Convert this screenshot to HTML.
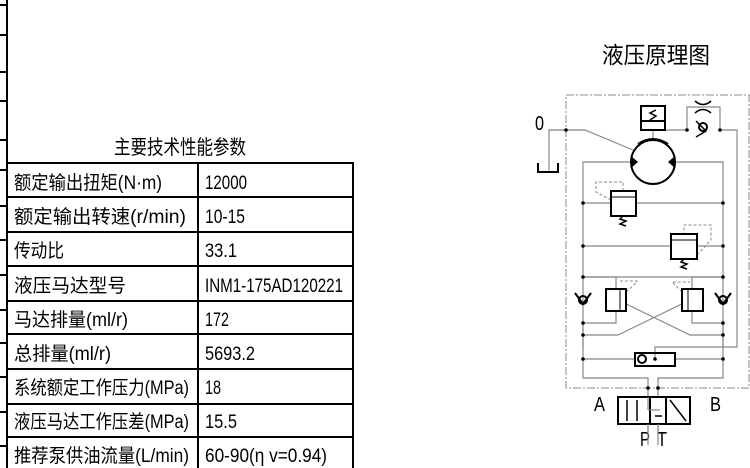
<!DOCTYPE html>
<html><head><meta charset="utf-8"><style>html,body{margin:0;padding:0;background:#fff}svg{display:block}</style></head><body>
<svg width="750" height="468" viewBox="0 0 750 468" xmlns="http://www.w3.org/2000/svg" font-family="'Liberation Sans','Noto Sans CJK SC',sans-serif">
<g stroke="#000" stroke-width="2" fill="none">
<line x1="7" y1="0" x2="7" y2="468"/>
<line x1="0" y1="5" x2="7" y2="5"/><line x1="0" y1="35" x2="7" y2="35"/><line x1="0" y1="72" x2="7" y2="72"/><line x1="0" y1="101" x2="7" y2="101"/><line x1="0" y1="140" x2="7" y2="140"/><line x1="0" y1="170" x2="7" y2="170"/><line x1="0" y1="206" x2="7" y2="206"/><line x1="0" y1="240" x2="7" y2="240"/><line x1="0" y1="275" x2="7" y2="275"/><line x1="0" y1="310" x2="7" y2="310"/><line x1="0" y1="343" x2="7" y2="343"/><line x1="0" y1="377" x2="7" y2="377"/><line x1="0" y1="412" x2="7" y2="412"/><line x1="0" y1="446" x2="7" y2="446"/>
<rect x="7" y="163" width="346" height="310"/>
<line x1="198" y1="163" x2="198" y2="468"/>
<line x1="7" y1="197" x2="353" y2="197"/><line x1="7" y1="232" x2="353" y2="232"/><line x1="7" y1="266" x2="353" y2="266"/><line x1="7" y1="301" x2="353" y2="301"/><line x1="7" y1="334" x2="353" y2="334"/><line x1="7" y1="369" x2="353" y2="369"/><line x1="7" y1="404" x2="353" y2="404"/><line x1="7" y1="437" x2="353" y2="437"/>
</g>
<g font-size="19" fill="#000">
<text x="180" y="154" text-anchor="middle" font-size="20" textLength="132" lengthAdjust="spacingAndGlyphs">主要技术性能参数</text>
<text x="14" y="189" textLength="148" lengthAdjust="spacingAndGlyphs">额定输出扭矩(N·m)</text>
<text x="14" y="223" textLength="172" lengthAdjust="spacingAndGlyphs">额定输出转速(r/min)</text>
<text x="14" y="257" textLength="50" lengthAdjust="spacingAndGlyphs">传动比</text>
<text x="14" y="292" textLength="112" lengthAdjust="spacingAndGlyphs">液压马达型号</text>
<text x="14" y="326" textLength="114" lengthAdjust="spacingAndGlyphs">马达排量(ml/r)</text>
<text x="14" y="360" textLength="97" lengthAdjust="spacingAndGlyphs">总排量(ml/r)</text>
<text x="14" y="394" textLength="175" lengthAdjust="spacingAndGlyphs">系统额定工作压力(MPa)</text>
<text x="14" y="428" textLength="175" lengthAdjust="spacingAndGlyphs">液压马达工作压差(MPa)</text>
<text x="14" y="462" textLength="175" lengthAdjust="spacingAndGlyphs">推荐泵供油流量(L/min)</text>
<text x="205" y="189" textLength="42" lengthAdjust="spacingAndGlyphs">12000</text>
<text x="205" y="223" textLength="40" lengthAdjust="spacingAndGlyphs">10-15</text>
<text x="205" y="257" textLength="32" lengthAdjust="spacingAndGlyphs">33.1</text>
<text x="205" y="292" textLength="138" lengthAdjust="spacingAndGlyphs">INM1-175AD120221</text>
<text x="205" y="326" textLength="24" lengthAdjust="spacingAndGlyphs">172</text>
<text x="205" y="360" textLength="50" lengthAdjust="spacingAndGlyphs">5693.2</text>
<text x="205" y="394" textLength="16" lengthAdjust="spacingAndGlyphs">18</text>
<text x="205" y="428" textLength="32" lengthAdjust="spacingAndGlyphs">15.5</text>
<text x="205" y="462" textLength="122" lengthAdjust="spacingAndGlyphs">60-90(η v=0.94)</text>
<text x="656" y="63" text-anchor="middle" font-size="23" textLength="108" lengthAdjust="spacingAndGlyphs">液压原理图</text>
<text x="535" y="130" font-size="20" textLength="9" lengthAdjust="spacingAndGlyphs">0</text>
<text x="594" y="411" font-size="20" textLength="11" lengthAdjust="spacingAndGlyphs">A</text>
<text x="710" y="411" font-size="20" textLength="11" lengthAdjust="spacingAndGlyphs">B</text>
<text x="640" y="446" font-size="20" textLength="10" lengthAdjust="spacingAndGlyphs">P</text>
<text x="657" y="446" font-size="20" textLength="10" lengthAdjust="spacingAndGlyphs">T</text>
</g>
<rect x="566" y="95" width="183" height="293" fill="none" stroke="#888" stroke-width="1" stroke-dasharray="8,2,2,2"/>
<g stroke="#888" stroke-width="1.2" fill="none">
<polyline points="549,172 549,130 585,130 633,150"/>
<polyline points="583,347 583,162 631,162"/>
<polyline points="675,162 723,162 723,347"/>
<line x1="583" y1="203" x2="611" y2="203"/><line x1="636" y1="203" x2="723" y2="203"/>
<line x1="583" y1="246" x2="671" y2="246"/><line x1="697" y1="246" x2="723" y2="246"/>
<line x1="583" y1="277" x2="723" y2="277"/>
<polyline points="583,323 583,378 648,378 648,420"/>
<polyline points="723,323 723,378 658,378 658,445"/>
<line x1="583" y1="359" x2="635" y2="359"/><line x1="675" y1="359" x2="723" y2="359"/>
<line x1="653" y1="130" x2="653" y2="140"/>
<polyline points="665,130 687,130"/><polyline points="720,130 737,130 737,347 655,347 655,359"/>
<polyline points="687,130 687,107 720,107 720,130"/>
<polyline points="583,277 616,277 616,289"/><polyline points="583,323 616,323 616,311"/>
<polyline points="723,277 692,277 692,289"/><polyline points="723,323 692,323 692,311"/>
<polyline points="583,335 618,335 690,300 703,300"/>
<polyline points="723,335 690,335 618,300 626,300"/>
<polyline points="648,420 648,445"/>
</g>
<g stroke="#888" stroke-width="1" fill="none" stroke-dasharray="3,2">
<polyline points="611,200 596,192 596,182 623,182 623,191"/>
<polyline points="697,255 711,240 711,225 684,225 684,234"/>
<polyline points="626,292 637,282 637,281 620,281"/>
<polyline points="682,292 672,282 690,282"/>
</g>
<g fill="#000">
<circle cx="566" cy="130" r="1.8"/><circle cx="687" cy="130" r="1.8"/><circle cx="720" cy="130" r="1.8"/>
<circle cx="583" cy="203" r="1.8"/><circle cx="723" cy="203" r="1.8"/><circle cx="583" cy="246" r="1.8"/><circle cx="723" cy="246" r="1.8"/>
<circle cx="583" cy="277" r="1.8"/><circle cx="723" cy="277" r="1.8"/><circle cx="583" cy="323" r="1.8"/><circle cx="723" cy="323" r="1.8"/>
<circle cx="583" cy="335" r="1.8"/><circle cx="723" cy="335" r="1.8"/><circle cx="583" cy="359" r="1.8"/><circle cx="723" cy="359" r="1.8"/>
<circle cx="648" cy="388" r="1.8"/><circle cx="658" cy="388" r="1.8"/><circle cx="655" cy="359" r="1.8"/>
<polygon points="631,156 631,168 638,162"/><polygon points="675,156 675,168 668,162"/>
</g>
<g stroke="#000" stroke-width="2" fill="none">
<polyline points="538,163 538,172 558,172 558,163"/>
<circle cx="653" cy="162" r="22"/>
<path d="M638,144 Q653,134 668,144"/>
<rect x="641" y="106" width="24" height="24" fill="#fff"/><line x1="641" y1="121" x2="665" y2="121"/>
<polyline points="650,120 656,116 650,113 656,110" stroke-width="1.5"/>
<rect x="611" y="191" width="25" height="25" fill="#fff"/><line x1="611" y1="197" x2="636" y2="197" stroke-width="1"/>
<polyline points="623,216 620,219 626,221 620,224 626,226" stroke-width="1.5"/>
<rect x="671" y="234" width="26" height="25" fill="#fff"/><line x1="671" y1="240" x2="697" y2="240" stroke-width="1"/>
<polyline points="684,259 681,262 687,264 681,267 687,269" stroke-width="1.5"/>
<rect x="606" y="289" width="20" height="22" fill="#fff"/><line x1="620" y1="289" x2="620" y2="311" stroke-width="1"/>
<rect x="682" y="289" width="21" height="22" fill="#fff"/><line x1="688" y1="289" x2="688" y2="311" stroke-width="1"/>
<circle cx="583" cy="300" r="4"/><polyline points="575,293 583,304 591,293"/>
<circle cx="723" cy="300" r="4"/><polyline points="715,293 723,304 731,293"/>
<circle cx="703" cy="127" r="4"/><polyline points="696,121 706,131 696,137" stroke-width="1.5"/>
<path d="M695,101 Q703,108 711,101 M695,113 Q703,106 711,113" stroke-width="1.5"/>
<rect x="635" y="353" width="40" height="13"/><circle cx="642" cy="359" r="4"/>
<rect x="618" y="397" width="72" height="27" fill="#fff"/>
<line x1="650" y1="397" x2="650" y2="424"/><line x1="666" y1="397" x2="666" y2="424"/>
<line x1="627" y1="400" x2="627" y2="421" stroke-width="1.5"/><line x1="637" y1="400" x2="637" y2="421" stroke-width="1.5"/>
<line x1="655" y1="416" x2="662" y2="416" stroke-width="1.5"/>
<polyline points="670,400 686,421 M670,421 686,400" stroke-width="1.5"/>
</g>
<g stroke="#888" stroke-width="1.2"><line x1="648" y1="397" x2="648" y2="410"/><line x1="648" y1="410" x2="660" y2="410"/><line x1="648" y1="424" x2="648" y2="432"/><line x1="658" y1="424" x2="658" y2="432"/></g>
</svg>
</body></html>
